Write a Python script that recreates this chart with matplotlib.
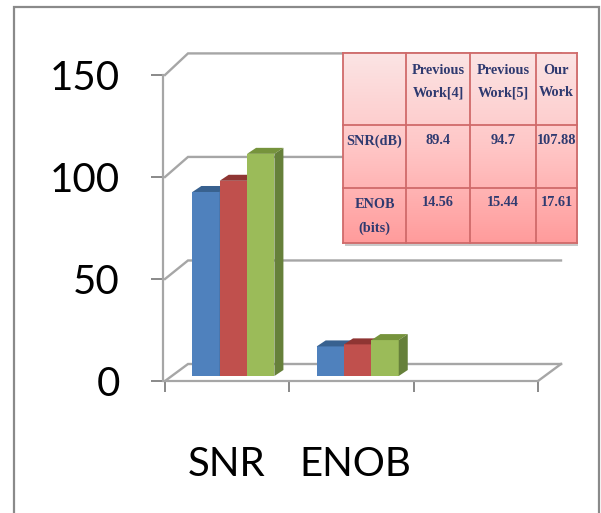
import numpy as np
import matplotlib
matplotlib.use("Agg")
import matplotlib.pyplot as plt
from matplotlib.patches import Polygon, Rectangle
from matplotlib.colors import LinearSegmentedColormap

W, H = 601, 513

categories = ["SNR", "ENOB"]
blue_vals = [90.2, 14.5]
red_vals = [95.7, 15.5]
green_vals = [108.9, 17.6]
y_ticks = [0, 50, 100, 150]

col_labels = ["", "Previous\nWork[4]", "Previous\nWork[5]", "Our\nWork"]
row1 = ["SNR(dB)", "89.4", "94.7", "107.88"]
row2 = ["ENOB\n(bits)", "14.56", "15.44", "17.61"]

GRID = "#A6A6A6"
plt.rcParams["font.family"] = ["Lato", "DejaVu Sans"]


def px_box(x0, y0, x1, y1):
    # pixel box, y measured from the top of the image
    return [x0 / W, 1 - y1 / H, (x1 - x0) / W, (y1 - y0) / H]


fig = plt.figure(figsize=(W / 100, H / 100), dpi=100)
fig.add_artist(Rectangle((14 / W, -0.1), 585 / W, 1.1 - 7 / H, transform=fig.transFigure,
                         fill=False, ec="#8A8A8A", lw=1.6))

ax = fig.add_axes(px_box(165, 75, 538, 381))
ax.set_xlim(0, 3)
ax.set_ylim(0, 150)
ax.patch.set_alpha(0)

# offsets of the back wall and of the bars in data units
px_x = 3 / 373
px_y = 150 / 306
back_dx = 23 * px_x


def back_y(v):
    return 17 * px_y + v * 1.015


for v in y_ticks:
    ax.plot([0, back_dx, 3 + back_dx], [v, back_y(v), back_y(v)], color=GRID, lw=1.7,
            clip_on=False, zorder=1, solid_joinstyle="miter")
ax.plot([3, 3 + back_dx], [0, back_y(0)], color=GRID, lw=1.7, clip_on=False, zorder=1)

# bars
group_pos = np.array([0.55, 1.55])
bar_w = 0.22
base = 5 * px_y
side_x = 9 * px_x
side_y = 6 * px_y
series = [
    (blue_vals, "#4F81BD", "#38618F", "#38618F", -bar_w),
    (red_vals, "#C0504D", "#8F3533", "#8F3533", 0),
    (green_vals, "#9BBB59", "#76933C", "#66803A", bar_w),
]
for vals, front, top, side, off in series:
    bars = ax.bar(group_pos + off, vals, bar_w, bottom=base, color=front, zorder=3)
    for b in bars:
        x0, x1 = b.get_x(), b.get_x() + b.get_width()
        y0, y1 = b.get_y(), b.get_y() + b.get_height()
        ax.add_patch(Polygon([(x0, y1), (x1, y1), (x1 + side_x, y1 + side_y), (x0 + side_x, y1 + side_y)],
                             fc=top, ec="none", zorder=3, clip_on=False))
        ax.add_patch(Polygon([(x1, y0), (x1, y1), (x1 + side_x, y1 + side_y), (x1 + side_x, y0 + side_y)],
                             fc=side, ec="none", zorder=3, clip_on=False))

for s in ["top", "right"]:
    ax.spines[s].set_visible(False)
for s in ["left", "bottom"]:
    ax.spines[s].set_color(GRID)
    ax.spines[s].set_linewidth(1.6)
ax.spines["left"].set_position(("outward", 1.5))
ax.set_yticks(y_ticks)
ax.set_xticks([0, 1, 2, 3], labels=[])
ax.set_xticks([0.495, 1.53], labels=categories, minor=True)
ax.tick_params(axis="y", length=9, width=1.3, color="#808080", labelsize=29, pad=22)
ax.tick_params(axis="x", which="major", length=8, width=1.3, color="#808080")
ax.tick_params(axis="x", which="minor", length=0, labelsize=29, pad=47)

# table drawn over the chart
col_edges = [343, 406, 470, 536, 577]
row_edges = [53, 125, 188, 243]
fig.add_artist(Rectangle((345 / W, 1 - 245.5 / H), 233 / W, 191 / H, transform=fig.transFigure,
                         fc="#C9C9C9", ec="none", zorder=4))
tab = fig.add_axes(px_box(col_edges[0], row_edges[0], col_edges[-1], row_edges[-1]), zorder=5)
tab.set_xlim(col_edges[0], col_edges[-1])
tab.set_ylim(row_edges[-1], row_edges[0])
tab.axis("off")
cmap = LinearSegmentedColormap.from_list("pink", ["#FBE4E4", "#FFC6C6", "#FF9C9C"])
tab.imshow(np.linspace(0, 1, 100).reshape(-1, 1), cmap=cmap, aspect="auto",
           extent=(col_edges[0], col_edges[-1], row_edges[-1], row_edges[0]))
for x in col_edges:
    tab.axvline(x, color="#D06A6A", lw=1.3, clip_on=False)
for y in row_edges:
    tab.axhline(y, color="#D06A6A", lw=1.3, clip_on=False)

centers = [(a + b) / 2 for a, b in zip(col_edges[:-1], col_edges[1:])]
font = dict(family=["Liberation Serif", "DejaVu Serif"], weight="bold", color="#2F3A70",
            fontsize=10.3, ha="center", linespacing=2.0)
for x, t in zip(centers, col_labels):
    tab.text(x, 81.5, t, va="center", **font)
for x, t in zip(centers, row1):
    tab.text(x, 141, t, va="center", **font)
for x, t in zip(centers, row2):
    if "\n" in t:
        tab.text(x, 216.5, t, va="center", **font)
    else:
        tab.text(x, 202, t, va="center", **font)

fig.savefig("out.png", dpi=100)
